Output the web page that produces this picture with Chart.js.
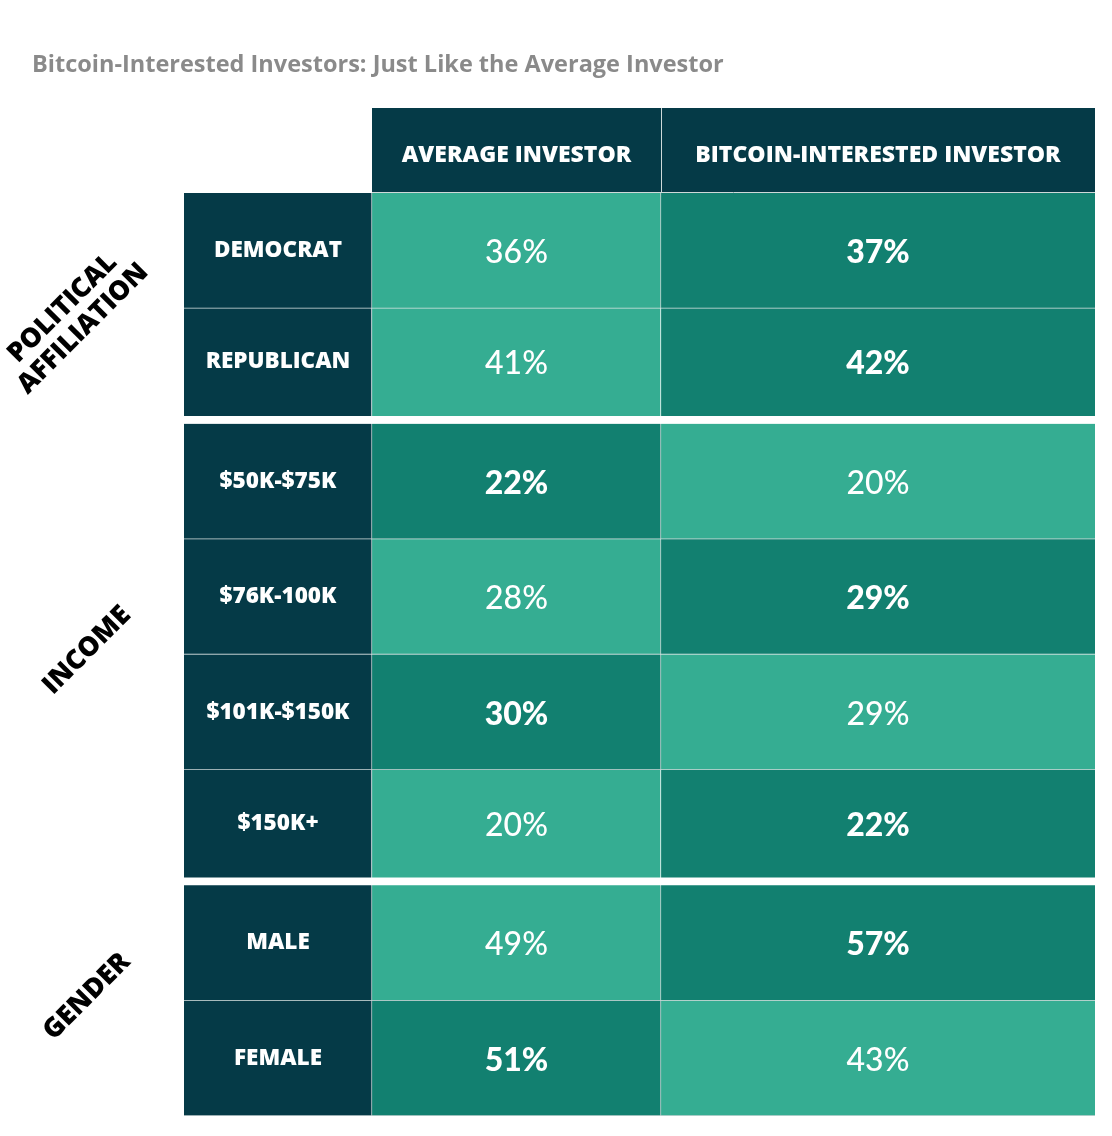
<!DOCTYPE html>
<html>
<head>
<meta charset="utf-8">
<script src="https://cdn.jsdelivr.net/npm/chart.js@4.4.1/dist/chart.umd.min.js"></script>
<style>
  html, body { margin: 0; padding: 0; background: #fff; }
  #wrap { width: 1112px; height: 1136px; }
  canvas { display: block; }
</style>
</head>
<body>
<div id="wrap"><canvas id="myChart"></canvas></div>
<script>
const rowLabels = ['DEMOCRAT', 'REPUBLICAN', '$50K-$75K', '$76K-100K', '$101K-$150K', '$150K+', 'MALE', 'FEMALE'];
const groupNames = [['POLITICAL', 'AFFILIATION'], ['INCOME'], ['GENDER']];
const groupSizes = [2, 4, 2];
const averageInvestor = [36, 41, 22, 28, 30, 20, 49, 51];
const bitcoinInvestor = [37, 42, 20, 29, 29, 22, 57, 43];
const columnHeaders = ['AVERAGE INVESTOR', 'BITCOIN-INTERESTED INVESTOR'];

// layout: width of the three table columns (label, average, bitcoin)
const colWidths = [188, 289, 434];
const totalWidth = colWidths[0] + colWidths[1] + colWidths[2];

const navy = '#053a47';
const light = '#35ad92';
const dark = '#128070';
const lineColor = '#cfd9d9';
const family = 'Lato, "Open Sans", sans-serif';
const heavy = '"Open Sans", Lato, sans-serif';

// last row of each group (except the final one) gets a white gap under it
const gapRows = [];
let acc = 0;
groupSizes.forEach((n, g) => {
  acc += n;
  if (g < groupSizes.length - 1) gapRows.push(acc - 1);
});

const cellBorder = (ctx, lastCol) => {
  const gap = gapRows.includes(ctx.dataIndex);
  return { top: 0, left: 0, right: lastCol ? 0 : 1, bottom: gap ? 8 : 1 };
};
const cellBorderColor = ctx => gapRows.includes(ctx.dataIndex) ? '#ffffff' : lineColor;

const headerPlugin = {
  id: 'header',
  beforeDraw(chart) {
    const ctx = chart.ctx;
    const x = chart.scales.x;
    const left = x.getPixelForValue(colWidths[0]);
    const mid = x.getPixelForValue(colWidths[0] + colWidths[1]);
    ctx.save();
    ctx.fillStyle = navy;
    ctx.fillRect(left, x.top, x.right - left, x.bottom - x.top);
    ctx.strokeStyle = lineColor;
    ctx.lineWidth = 1;
    ctx.beginPath();
    ctx.moveTo(mid + 0.5, x.top);
    ctx.lineTo(mid + 0.5, x.bottom);
    ctx.moveTo(left, x.bottom - 0.5);
    ctx.lineTo(x.right, x.bottom - 0.5);
    ctx.stroke();
    ctx.restore();
  }
};

const textPlugin = {
  id: 'cellText',
  afterDatasetsDraw(chart) {
    const ctx = chart.ctx;
    ctx.save();
    ctx.fillStyle = '#fff';
    ctx.textAlign = 'center';
    ctx.textBaseline = 'middle';
    const shift = i => gapRows.includes(i) ? -4 : 0;
    chart.getDatasetMeta(0).data.forEach((el, i) => {
      ctx.font = '800 22.5px ' + heavy;
      ctx.fillText(rowLabels[i], (el.base + el.x) / 2, el.y + shift(i));
    });
    [averageInvestor, bitcoinInvestor].forEach((vals, d) => {
      const other = d ? averageInvestor : bitcoinInvestor;
      chart.getDatasetMeta(d + 1).data.forEach((el, i) => {
        ctx.font = (vals[i] > other[i] ? '900 ' : '500 ') + '32px ' + family;
        ctx.fillText(vals[i] + '%', (el.base + el.x) / 2, el.y + shift(i) + 2);
      });
    });
    ctx.restore();
  },
  afterDraw(chart) {
    const ctx = chart.ctx;
    const meta = chart.getDatasetMeta(0);
    let start = 0;
    ctx.save();
    ctx.fillStyle = '#000';
    ctx.textAlign = 'center';
    ctx.textBaseline = 'middle';
    ctx.font = '800 27px ' + heavy;
    groupNames.forEach((lines, g) => {
      const end = start + groupSizes[g] - 1;
      const yc = (meta.data[start].y + meta.data[end].y) / 2;
      const xc = chart.chartArea.left - 97;
      ctx.save();
      ctx.translate(xc, yc - 4);
      ctx.rotate(-Math.PI / 4);
      const along = lines.length > 1 ? -20 : 0;
      lines.forEach((t, k) => {
        ctx.fillText(t, along, (k - (lines.length - 1) / 2) * 29);
      });
      ctx.restore();
      start = end + 1;
    });
    ctx.restore();
  }
};

const barBase = {
  categoryPercentage: 1,
  barPercentage: 1,
  borderSkipped: false,
  borderColor: cellBorderColor
};

const chart = new Chart(document.getElementById('myChart'), {
  type: 'bar',
  data: {
    labels: rowLabels,
    datasets: [
      Object.assign({
        label: 'row',
        data: rowLabels.map(() => colWidths[0]),
        backgroundColor: navy,
        borderWidth: ctx => cellBorder(ctx, false)
      }, barBase),
      Object.assign({
        label: columnHeaders[0],
        data: rowLabels.map(() => colWidths[1]),
        backgroundColor: ctx => averageInvestor[ctx.dataIndex] > bitcoinInvestor[ctx.dataIndex] ? dark : light,
        borderWidth: ctx => cellBorder(ctx, false)
      }, barBase),
      Object.assign({
        label: columnHeaders[1],
        data: rowLabels.map(() => colWidths[2]),
        backgroundColor: ctx => bitcoinInvestor[ctx.dataIndex] > averageInvestor[ctx.dataIndex] ? dark : light,
        borderWidth: ctx => cellBorder(ctx, true)
      }, barBase)
    ]
  },
  options: {
    indexAxis: 'y',
    responsive: true,
    maintainAspectRatio: false,
    animation: false,
    events: [],
    layout: { padding: { left: 32, right: 17, top: 0, bottom: 20 } },
    plugins: {
      legend: { display: false },
      tooltip: { enabled: false },
      title: {
        display: true,
        text: 'Bitcoin-Interested Investors: Just Like the Average Investor',
        align: 'start',
        color: '#8a8a8a',
        font: { family: heavy, size: 23.5, weight: '700' },
        padding: { top: 51, bottom: 28.8 }
      }
    },
    scales: {
      x: {
        type: 'linear',
        position: 'top',
        stacked: true,
        min: 0,
        max: totalWidth,
        grid: { display: false, drawTicks: false },
        border: { display: false },
        afterFit: s => { s.height = 85; },
        afterBuildTicks: s => {
          s.ticks = [
            { value: colWidths[0] + colWidths[1] / 2 },
            { value: colWidths[0] + colWidths[1] + colWidths[2] / 2 }
          ];
        },
        ticks: {
          autoSkip: false,
          maxRotation: 0,
          padding: 24,
          color: '#ffffff',
          font: { family: heavy, size: 23, weight: '800' },
          callback: (v, i) => columnHeaders[i]
        }
      },
      y: {
        type: 'category',
        stacked: true,
        grid: { display: false },
        border: { display: false },
        ticks: { display: false },
        afterFit: s => { s.width = 152; }
      }
    }
  },
  plugins: [headerPlugin, textPlugin]
});
</script>
</body>
</html>
